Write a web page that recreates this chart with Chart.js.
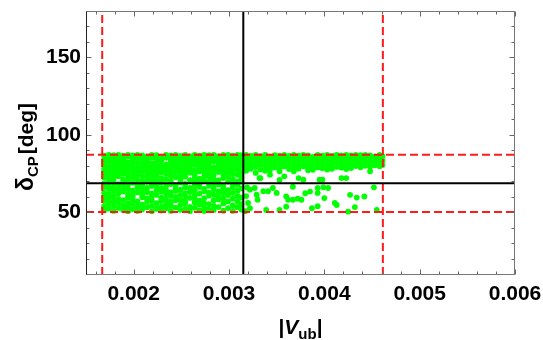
<!DOCTYPE html>
<html><head><meta charset="utf-8">
<script src="https://cdn.jsdelivr.net/npm/chart.js@4.4.0/dist/chart.umd.min.js"></script>
<style>html,body{margin:0;padding:0;background:#fff;}#wrap{width:543px;height:340px;position:relative;}</style>
</head><body><div id="wrap"><canvas id="c" width="543" height="340"></canvas></div>
<script>
// axis ranges and tick labels
const xRange = [0.0015, 0.006];
const yRange = [9.5, 180];
const xTickValues = [0.002, 0.003, 0.004, 0.005, 0.006];
const yTickValues = [50, 100, 150];
// reference lines
const vubCentral = 0.00315, vubLow = 0.00167, vubHigh = 0.004614;
const deltaCentral = 68.8, deltaLow = 50.2, deltaHigh = 87.1;

// scatter points: dense part read column by column (|Vub| of column, delta values in it)
const bandVub = [
0.00169,0.00174,0.00179,0.00184,0.00189,0.00194,0.00199,0.00204,0.00209,0.00214,
0.00219,0.00224,0.00229,0.00234,0.00239,0.00244,0.00249,0.00254,0.00259,0.00264,
0.00269,0.00274,0.00279,0.00284,0.00289,0.00294,0.00299,0.00304,0.00309,0.00313,
0.00318,0.00323,0.00328,0.00333,0.00338,0.00343,0.00348,0.00353,0.00358,0.00363,
0.00368,0.00373,0.00378,0.00383,0.00388,0.00393,0.00398,0.00403,0.00408,0.00413,
0.00418,0.00423,0.00428,0.00433,0.00438,0.00443,0.00448,0.00453,0.00458,0.00461];
const bandDelta = [
[51.2,53.9,57.4,60.1,62.6,66.3,68.7,72.4,74.9,78.2,80.6,84.1,86.6,76.3,82.5],
[52.4,55.8,59.1,61.8,65.2,67.9,70.6,76.8,79.7,82.9,85.7,73.9,87.0],
[50.9,54.3,57.1,60.4,63.7,66.0,69.2,71.9,74.6,78.4,81.1,83.8,86.9,76.2,85.4],
[52.8,56.2,58.7,62.1,64.9,68.1,73.2,76.1,79.9,82.4,85.3,77.8,87.1],
[51.4,54.6,57.9,63.4,66.6,69.5,71.4,75.0,77.6,81.3,84.4,86.5,79.4,82.9],
[50.7,53.3,56.1,59.6,61.9,65.0,67.7,70.9,73.8,79.1,82.2,85.9,76.4,87.0],
[52.1,55.4,58.3,60.9,64.1,69.0,72.3,75.4,77.9,80.7,83.6,86.8,82.1,85.2],
[50.8,53.7,57.0,62.8,66.1,68.3,71.1,74.2,78.8,81.9,85.1,76.9,87.0],
[51.9,55.0,59.7,61.5,64.7,67.4,70.2,76.6,79.3,82.7,84.6,86.7,81.0,73.5],
[53.2,56.6,58.9,63.0,65.8,69.8,72.8,75.3,77.7,80.4,83.3,86.1,78.9,84.9],
[50.6,54.1,57.6,60.3,62.2,66.9,68.6,71.6,74.4,79.6,81.7,85.4,77.1,87.0],
[52.3,55.9,61.2,64.4,67.1,70.4,73.6,76.9,78.5,82.1,84.8,86.9,80.4,75.0],
[51.1,53.6,57.3,59.4,63.3,65.6,69.1,72.0,75.7,80.2,83.4,86.0,78.2,85.0],
[52.6,55.1,58.4,61.6,64.2,66.8,71.3,74.7,78.1,81.0,85.2,76.3,87.0],
[50.9,54.4,56.8,60.6,62.9,68.2,70.1,73.4,77.2,79.8,82.6,84.3,86.8,75.4,81.1],
[53.0,57.7,59.9,63.8,65.3,67.6,72.6,75.9,78.9,81.5,85.6,83.4,87.0],
[51.6,54.8,58.0,61.3,64.6,69.3,71.2,74.1,76.4,80.1,83.0,86.4,78.3,85.0],
[52.2,55.6,57.2,60.0,62.4,66.2,68.4,73.0,77.4,79.0,82.0,84.7,87.0,80.6,75.2],
[50.7,53.5,59.3,63.1,65.7,70.8,75.6,78.6,81.4,83.7,86.2,76.9,85.0],
[52.9,56.3,58.6,61.0,64.0,67.3,69.6,72.2,74.5,77.0,80.5,85.0,83.0,87.0],
[51.3,54.9,57.5,62.0,66.4,68.8,71.7,76.3,79.4,82.3,84.2,86.6,77.8,80.9],
[50.8,53.1,56.0,59.2,63.6,65.1,70.3,73.3,78.0,80.8,83.1,85.8,76.0,87.0],
[52.0,55.3,60.7,62.7,67.0,69.4,72.7,75.1,77.5,81.6,84.5,86.9,79.4,83.1],
[51.5,54.2,57.8,61.4,64.8,66.5,71.0,74.0,79.2,82.8,85.5,77.0,87.0],
[53.4,58.2,60.2,63.5,68.0,70.7,76.0,78.3,80.3,83.9,86.3,82.0,84.9],
[51.0,55.7,59.0,62.3,65.4,67.2,72.1,74.8,77.1,81.2,84.0,87.0,79.3,76.0],
[52.7,57.0,61.1,64.3,69.7,73.1,75.5,79.5,82.5,85.3,77.6,87.0],
[50.9,54.5,58.8,62.5,66.0,68.5,71.5,76.7,78.7,80.9,83.5,86.5,84.9,75.0],
[53.3,56.9,60.5,63.9,67.8,70.0,74.3,77.8,81.8,84.9,79.7,87.0],
[51.8,55.2,59.5,65.5,69.9,72.5,75.2,79.1,82.2,85.7,86.9,77.4,83.9],
[76.9,79.6,82.4,85.2,87.0],
[78.1,80.9,83.7,86.4],
[75.4,79.2,82.0,84.9,87.1],
[72.1,77.6,80.5,83.3,86.2],
[76.8,78.8,81.6,84.5,87.0],
[74.3,77.3,80.2,83.0,85.9],
[79.0,81.8,84.7,86.9],
[76.5,78.4,81.3,84.1,86.6],
[73.2,79.6,82.5,85.3,87.0],
[77.9,80.8,83.6,86.4],
[76.5,79.3,82.1,85.0,87.1],
[72.1,78.2,81.0,83.9,86.5],
[71.0,79.7,82.6,85.4,87.0],
[77.2,78.5,81.3,84.2,86.8],
[77.4,80.1,83.0,85.8],
[79.0,81.9,84.7,87.0],
[71.0,78.4,81.2,84.0,86.6],
[77.6,79.6,82.5,85.3,87.1],
[78.1,80.9,83.8,86.4],
[79.3,82.1,85.0,87.0],
[72.1,78.8,81.5,84.4,86.7],
[72.1,77.9,79.8,82.7,85.5,87.0],
[78.6,81.4,84.2,86.8],
[79.9,82.8,85.6,87.1],
[79.1,81.9,84.7,86.9],
[80.0,82.9,85.7,87.0],
[76.5,79.4,82.2,85.0,86.8],
[80.3,83.1,85.9],
[79.8,82.6,85.4,87.0],
[80.5,83.3,86.2]];
// scattered points below the band, right of the central |Vub|
const sparseVub = [
0.00322,0.00327,0.00329,0.00330,0.00336,0.00341,0.00346,0.00350,0.00360,0.00362,
0.00367,0.00372,0.00376,0.00367,0.00353,0.00380,0.00385,0.00393,0.00393,0.00399,
0.00404,0.00400,0.00413,0.00427,0.00434,0.00442,0.00452,0.00393,0.00411,0.00455,
0.00322,0.00339,0.00353,0.00360,0.00387,0.00425,0.00432,0.00317,0.00319,0.00318,
0.00320,0.00395,0.00332];
const sparseDelta = [
64.6,65.7,61.4,58.1,63.6,63.6,65.7,62.5,60.3,58.1,
58.1,58.8,58.1,66.5,70.9,62.3,63.4,65.7,62.5,66.1,
65.7,59.2,54.7,61.3,59.5,60.2,66.1,53.9,56.0,51.5,
52.6,51.5,51.5,53.6,52.6,50.4,53.4,50.7,66.0,60.5,
56.0,71.0,72.1];

const points = [];
bandVub.forEach((x, i) => bandDelta[i].forEach(y => points.push({x, y})));
sparseVub.forEach((x, i) => points.push({x, y: sparseDelta[i]}));

const FONT = "'Liberation Sans', Arial, sans-serif";

const framePlugin = {
  id: 'frame',
  afterDraw(chart) {
    const {ctx, chartArea: a, scales: {x, y}} = chart;
    ctx.save();
    const L = Math.round(a.left) + 0.5, R = Math.round(a.right) - 0.5;
    const T = Math.round(a.top) + 0.5, B = Math.round(a.bottom) - 0.5;
    ctx.lineWidth = 1;
    ctx.strokeStyle = '#666';
    for (let k = 16; k <= 60; k += 2) {
      const px = Math.round(x.getPixelForValue(k / 10000)) + 0.5;
      const len = (k % 10 === 0) ? 5 : 3;
      ctx.beginPath(); ctx.moveTo(px, B); ctx.lineTo(px, B - len); ctx.stroke();
      ctx.beginPath(); ctx.moveTo(px, T); ctx.lineTo(px, T + len); ctx.stroke();
    }
    for (let k = 10; k <= 180; k += 10) {
      const py = Math.round(y.getPixelForValue(k)) + 0.5;
      const len = (k % 50 === 0) ? 5 : 3;
      ctx.beginPath(); ctx.moveTo(L, py); ctx.lineTo(L + len, py); ctx.stroke();
      ctx.beginPath(); ctx.moveTo(R, py); ctx.lineTo(R - len, py); ctx.stroke();
    }
    ctx.strokeStyle = '#777';
    ctx.beginPath(); ctx.moveTo(L, T); ctx.lineTo(R, T); ctx.lineTo(R, B); ctx.lineTo(L, B); ctx.stroke();
    ctx.strokeStyle = '#222';
    ctx.beginPath(); ctx.moveTo(L, T); ctx.lineTo(L, B); ctx.stroke();

    // x axis title |V_ub|
    ctx.fillStyle = '#000';
    ctx.textBaseline = 'alphabetic';
    const big = 'bold 21px ' + FONT, ital = 'italic bold 21px ' + FONT, sub = 'bold 15px ' + FONT;
    const parts = [['|', big, 0], ['V', ital, 0], ['ub', sub, 5], ['|', big, 0]];
    let w = 0;
    parts.forEach(p => { ctx.font = p[1]; p.push(ctx.measureText(p[0]).width); w += p[3]; });
    let cx = (a.left + a.right) / 2 - w / 2;
    const base = 334;
    parts.forEach(p => { ctx.font = p[1]; ctx.fillText(p[0], cx, base + p[2]); cx += p[3]; });

    // y axis title delta_CP [deg]
    ctx.save();
    ctx.translate(33, 147);
    ctx.rotate(-Math.PI / 2);
    const yparts = [['δ', 'bold 23px ' + FONT, 0], ['CP', 'bold 15px ' + FONT, 5], ['[deg]', 'bold 21px ' + FONT, 0]];
    let wy = 0;
    yparts.forEach(p => { ctx.font = p[1]; p.push(ctx.measureText(p[0]).width); wy += p[3]; });
    wy += 2;
    let cy = -wy / 2;
    yparts.forEach((p, i) => { ctx.font = p[1]; ctx.fillText(p[0], cy, p[2]); cy += p[3] + (i === 1 ? 2 : 0); });
    ctx.restore();
    ctx.restore();
  }
};

const lineDs = (data, color, dash) => ({
  data, showLine: true, borderColor: color, borderWidth: 2, borderDash: dash,
  pointRadius: 0, pointHoverRadius: 0, fill: false, tension: 0
});

new Chart(document.getElementById('c'), {
  type: 'scatter',
  data: {
    datasets: [
      lineDs([{x: vubCentral, y: yRange[0]}, {x: vubCentral, y: yRange[1]}], '#000', []),
      lineDs([{x: xRange[0], y: deltaCentral}, {x: xRange[1], y: deltaCentral}], '#000', []),
      lineDs([{x: vubLow, y: yRange[0]}, {x: vubLow, y: yRange[1]}], '#ff1a1a', [8, 4]),
      lineDs([{x: vubHigh, y: yRange[0]}, {x: vubHigh, y: yRange[1]}], '#ff1a1a', [8, 4]),
      lineDs([{x: xRange[0], y: deltaHigh}, {x: xRange[1], y: deltaHigh}], '#ff1a1a', [8, 4]),
      lineDs([{x: xRange[0], y: deltaLow}, {x: xRange[1], y: deltaLow}], '#ff1a1a', [8, 4]),
      {
        data: points, pointRadius: 2.9, pointHoverRadius: 2.9,
        pointBackgroundColor: '#00ff00', pointBorderColor: '#00ff00', pointBorderWidth: 0,
        showLine: false
      }
    ]
  },
  options: {
    responsive: false, animation: false, devicePixelRatio: 1,
    layout: {padding: {top: 11, right: 28, left: 0, bottom: 0}},
    plugins: {legend: {display: false}, tooltip: {enabled: false}},
    events: [],
    scales: {
      x: {
        type: 'linear', min: xRange[0], max: xRange[1],
        afterBuildTicks: s => { s.ticks = xTickValues.map(v => ({value: v})); },
        afterFit: s => { s.height = 65; s.paddingLeft = 0; s.paddingRight = 0; },
        grid: {display: false, drawTicks: false}, border: {display: false},
        ticks: {color: '#000', padding: 7, maxRotation: 0, autoSkip: false,
          font: {family: FONT, weight: 'bold', size: 21},
          callback: v => v.toFixed(3)}
      },
      y: {
        type: 'linear', min: yRange[0], max: yRange[1],
        afterBuildTicks: s => { s.ticks = yTickValues.map(v => ({value: v})); },
        afterFit: s => { s.width = 86; s.paddingTop = 0; s.paddingBottom = 0; },
        grid: {display: false, drawTicks: false}, border: {display: false},
        ticks: {color: '#000', padding: 5, autoSkip: false,
          font: {family: FONT, weight: 'bold', size: 21},
          callback: v => String(v)}
      }
    }
  },
  plugins: [framePlugin]
});
</script>
</body></html>
